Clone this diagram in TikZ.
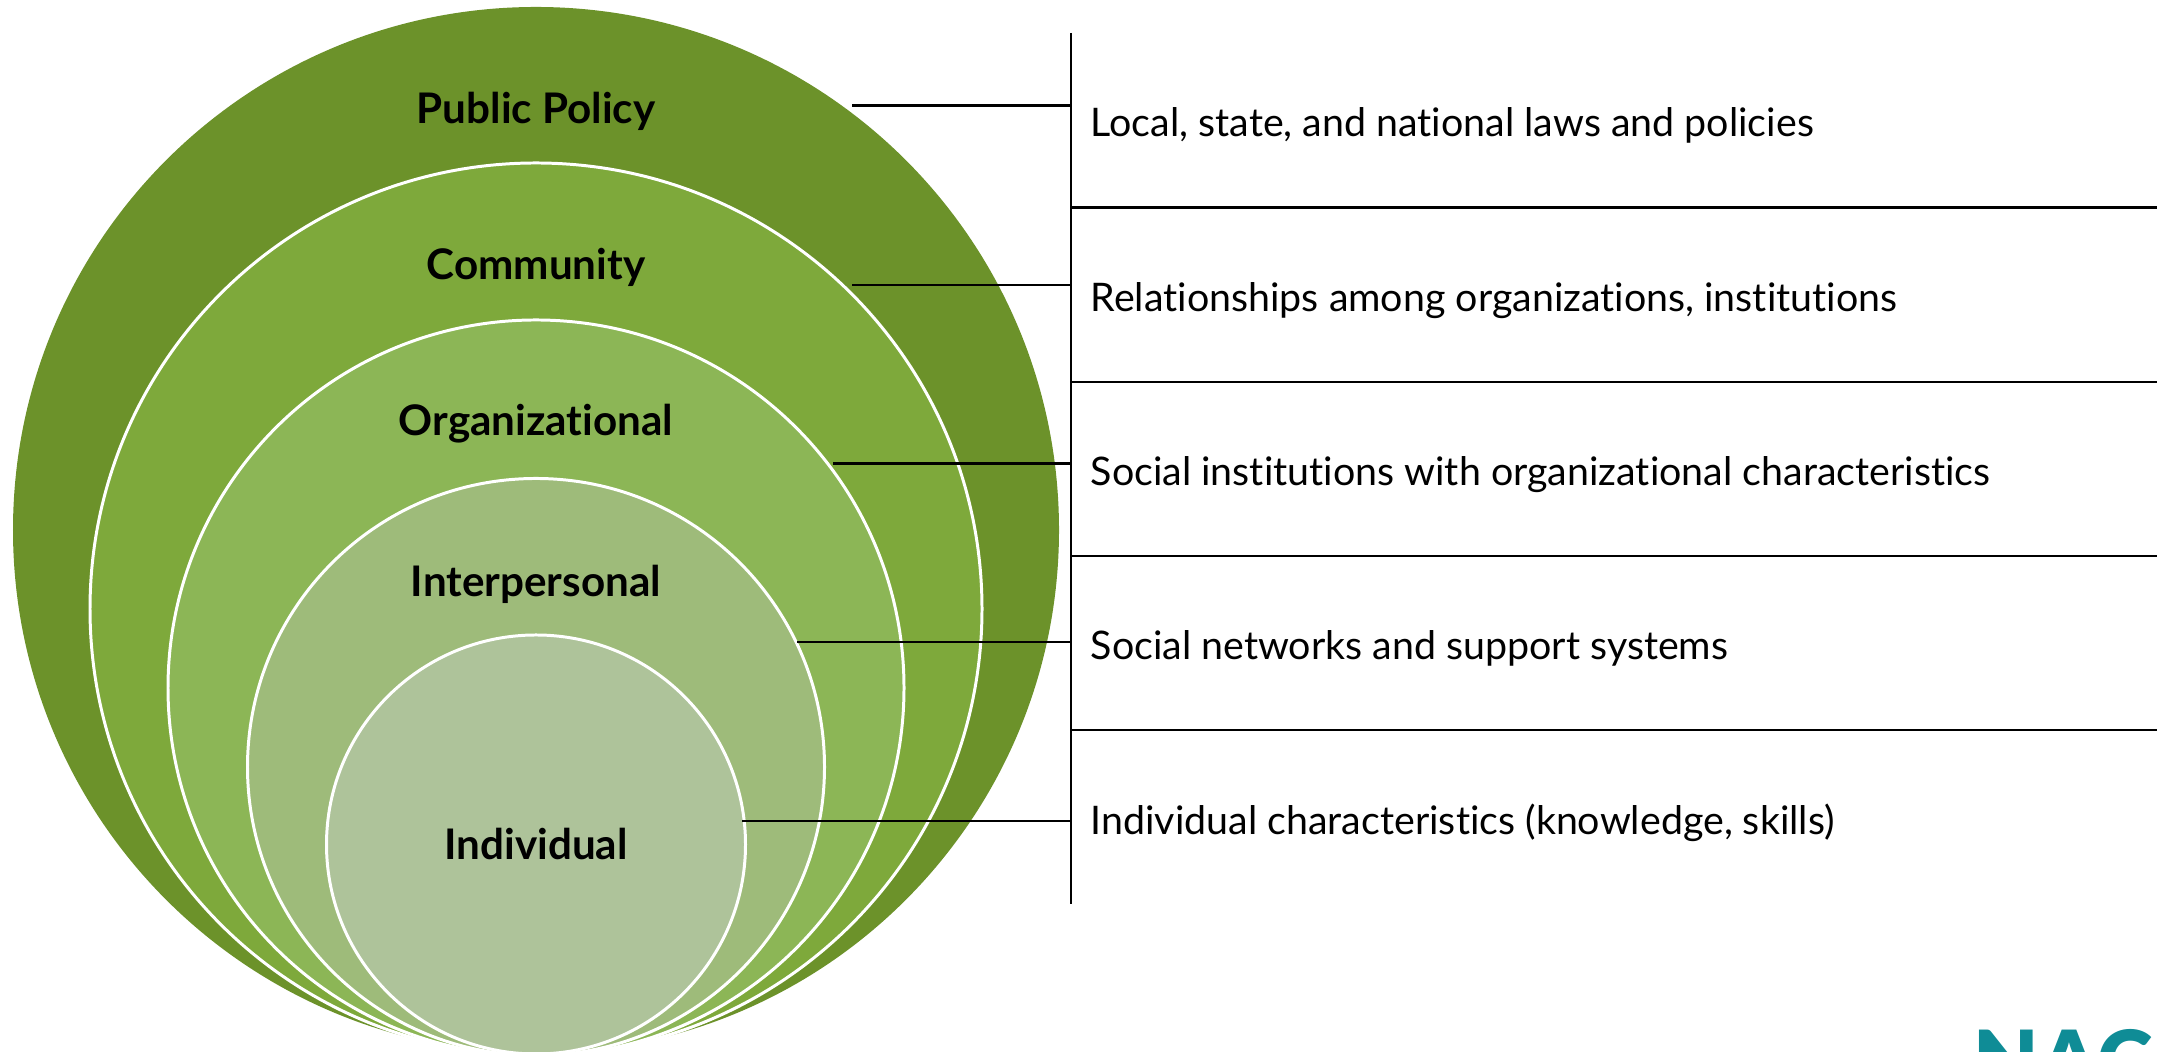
\documentclass[tikz,border=0pt]{standalone}
\usepackage{fontspec}
\setmainfont{Lato}[Ligatures=NoCommon]
\newfontfamily\logofont{Lato Black}
\usetikzlibrary{calc}
\definecolor{policygreen}{HTML}{6C922A}
\definecolor{communitygreen}{HTML}{7EA93B}
\definecolor{orggreen}{HTML}{8CB656}
\definecolor{persongreen}{HTML}{9EBB7A}
\definecolor{selfgreen}{HTML}{AEC39A}
\definecolor{logoteal}{HTML}{0F8C96}
\tikzstyle{ring} = [circle, draw=white, line width=0.85pt, inner sep=0]
\tikzstyle{level} = [font=\fontsize{12}{14}\selectfont\bfseries, text=black, inner sep=0, anchor=base]
\tikzstyle{detail} = [font=\fontsize{11.2}{13}\selectfont, text=black, inner sep=0, anchor=base west]
\tikzstyle{rule} = [black, line width=0.8pt]

\begin{document}
\begin{tikzpicture}

        \useasboundingbox (0,0) rectangle (21.57,10.52);
        \clip (0,0) rectangle (21.57,10.52);

        \node at (5.36,5.22) [ring, draw=none, fill=policygreen, minimum size=10.46cm](policy) {};
        \node at (5.36,4.43) [ring, fill=communitygreen, minimum size=8.92cm](community) {};
        \node at (5.36,3.64) [ring, fill=orggreen, minimum size=7.36cm](org) {};
        \node at (5.36,2.85) [ring, fill=persongreen, minimum size=5.77cm](person) {};
        \node at (5.36,2.075) [ring, fill=selfgreen, minimum size=4.19cm](self) {};

        \node at (5.36,9.28) [level](policyname) {Public Policy};
        \node at (5.36,7.72) [level](communityname) {Community};
        \node at (5.36,6.16) [level](orgname) {Organizational};
        \node at (5.36,4.55) [level](personname) {Interpersonal};
        \node at (5.36,1.92) [level](selfname) {Individual};

        \coordinate (spinetop) at (10.71,10.19);
        \coordinate (spinebottom) at (10.71,1.48);
        \coordinate (rightedge) at (21.57,0);
        \draw[rule] (spinetop) -- (spinebottom);

        \coordinate (policyend) at (8.52,9.465);
        \coordinate (communityend) at (8.52,7.67);
        \coordinate (orgend) at (8.33,5.885);
        \coordinate (personend) at (7.97,4.10);
        \coordinate (selfend) at (7.42,2.31);
        \draw[rule] (policyend) -- (policyend -| spinetop);
        \draw[rule] (communityend) -- (communityend -| spinetop);
        \draw[rule] (orgend) -- (orgend -| spinetop);
        \draw[rule] (personend) -- (personend -| spinetop);
        \draw[rule] (selfend) -- (selfend -| spinetop);

        \coordinate (rowa) at (10.71,8.445);
        \coordinate (rowb) at (10.71,6.70);
        \coordinate (rowc) at (10.71,4.96);
        \coordinate (rowd) at (10.71,3.22);
        \draw[rule] (rowa) -- (rowa -| rightedge);
        \draw[rule] (rowb) -- (rowb -| rightedge);
        \draw[rule] (rowc) -- (rowc -| rightedge);
        \draw[rule] (rowd) -- (rowd -| rightedge);

        \node at (10.90,9.15) [detail](policytext) {Local, state, and national laws and policies};
        \node at (10.90,7.40) [detail](communitytext) {Relationships among organizations, institutions};
        \node at (10.90,5.66) [detail](orgtext) {Social institutions with organizational characteristics};
        \node at (10.90,3.92) [detail](persontext) {Social networks and support systems};
        \node at (10.90,2.17) [detail](selftext) {Individual characteristics (knowledge, skills)};

        \node at (19.73,-0.40) [inner sep=0, anchor=base west, text=logoteal, font=\fontsize{24}{26}\logofont](logo) {NAC};

    \end{tikzpicture}
\end{document}
